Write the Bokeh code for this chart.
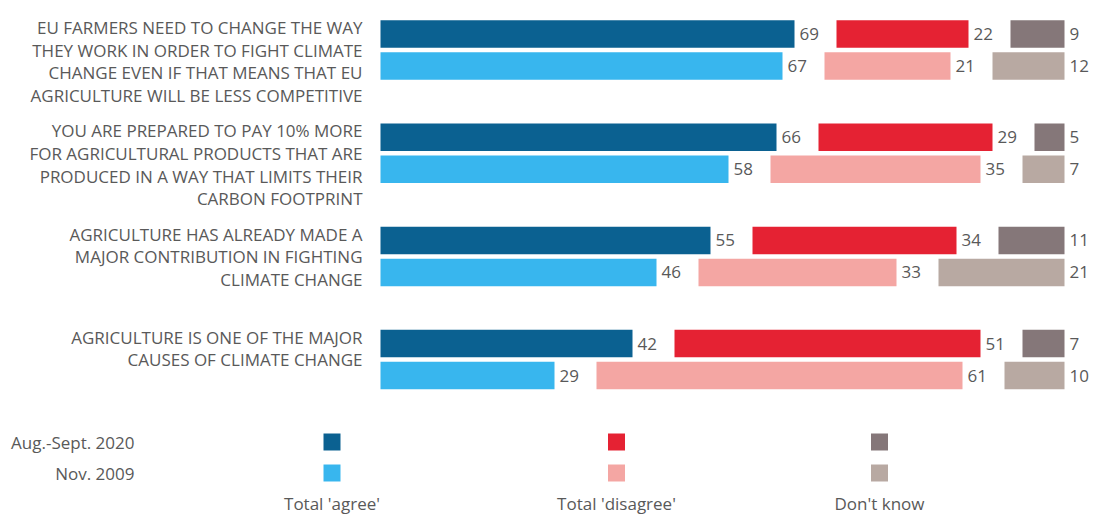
from bokeh.plotting import figure
from bokeh.models import Range1d, ColumnDataSource
from bokeh.core.properties import value
from bokeh.embed import file_html
from bokeh.resources import INLINE

# ---------------- data ----------------
categories = [
    "EU FARMERS NEED TO CHANGE THE WAY\nTHEY WORK IN ORDER TO FIGHT CLIMATE\nCHANGE EVEN IF THAT MEANS THAT EU\nAGRICULTURE WILL BE LESS COMPETITIVE",
    "YOU ARE PREPARED TO PAY 10% MORE\nFOR AGRICULTURAL PRODUCTS THAT ARE\nPRODUCED IN A WAY THAT LIMITS THEIR\nCARBON FOOTPRINT",
    "AGRICULTURE HAS ALREADY MADE A\nMAJOR CONTRIBUTION IN FIGHTING\nCLIMATE CHANGE",
    "AGRICULTURE IS ONE OF THE MAJOR\nCAUSES OF CLIMATE CHANGE",
]
agree_2020 = [69, 66, 55, 42]
agree_2009 = [67, 58, 46, 29]
disagree_2020 = [22, 29, 34, 51]
disagree_2009 = [21, 35, 33, 61]
dk_2020 = [9, 5, 11, 7]
dk_2009 = [12, 7, 21, 10]

series_labels = ["Aug.-Sept. 2020", "Nov. 2009"]
column_labels = ["Total 'agree'", "Total 'disagree'", "Don't know"]

# ---------------- style / layout ----------------
FONT = "Open Sans"
TXT = "#595959"
C_AGREE = ["#0B6191", "#38B6EE"]
C_DIS = ["#E52233", "#F4A6A3"]
C_DK = ["#857779", "#B8A9A2"]
GAP = 7
W, H = 1093, 517
PX = 6.0           # pixels per percentage point
X0 = 380           # pixel position of 0 %
FS = "17px"

p = figure(width=W, height=H, output_backend="svg", toolbar_location=None,
           x_range=Range1d(-X0 / PX, (W - X0) / PX), y_range=Range1d(H, 0),
           min_border=0)
p.axis.visible = False
p.grid.visible = False
p.outline_line_color = None
p.background_fill_color = "white"
p.border_fill_color = "white"

n = len(categories)
centers = [49.5 + 103.2 * i for i in range(n)]
BAR_H = 27.5
OFF = 16

for s, (ag, di, dk) in enumerate([(agree_2020, disagree_2020, dk_2020),
                                  (agree_2009, disagree_2009, dk_2009)]):
    ys = [c + (-OFF if s == 0 else OFF) for c in centers]
    a_l = [0] * n
    a_r = list(ag)
    d_l = [a + GAP for a in ag]
    d_r = [a + GAP + d for a, d in zip(ag, di)]
    k_l = [a + d + 2 * GAP for a, d in zip(ag, di)]
    k_r = [a + d + k + 2 * GAP for a, d, k in zip(ag, di, dk)]
    for left, right, vals, col in [(a_l, a_r, ag, C_AGREE[s]),
                                   (d_l, d_r, di, C_DIS[s]),
                                   (k_l, k_r, dk, C_DK[s])]:
        src = ColumnDataSource(dict(y=ys, left=left, right=right,
                                    lab=[str(v) for v in vals]))
        p.hbar(y="y", left="left", right="right", height=BAR_H, source=src,
               fill_color=col, line_color=None)
        p.text(x="right", y="y", text="lab", source=src, x_offset=5,
               text_align="left", text_baseline="middle",
               text_font=value(FONT), text_font_size=FS, text_color=TXT)

# category labels
p.text(x=[-18 / PX] * n, y=[c - OFF - BAR_H / 2 - 4 for c in centers], text=categories,
       text_align="right", text_baseline="top", text_font=value(FONT),
       text_font_size=FS, text_color=TXT, text_line_height=0.98)

# legend (custom)
leg_x = [(331.5 - X0) / PX, (616 - X0) / PX, (879 - X0) / PX]
leg_y = [441.5, 472.5]
for s in range(2):
    p.text(x=[(134 - X0) / PX], y=[leg_y[s]], text=[series_labels[s]], text_align="right",
           text_baseline="middle", text_font=value(FONT), text_font_size=FS,
           text_color=TXT)
    p.scatter(x=leg_x, y=[leg_y[s]] * 3, marker="square", size=17,
              fill_color=[C_AGREE[s], C_DIS[s], C_DK[s]], line_color=None)
p.text(x=leg_x, y=[503] * 3, text=column_labels, text_align="center",
       text_baseline="middle", text_font=value(FONT), text_font_size=FS,
       text_color=TXT)

open("out.html", "w").write(file_html(p, INLINE))
